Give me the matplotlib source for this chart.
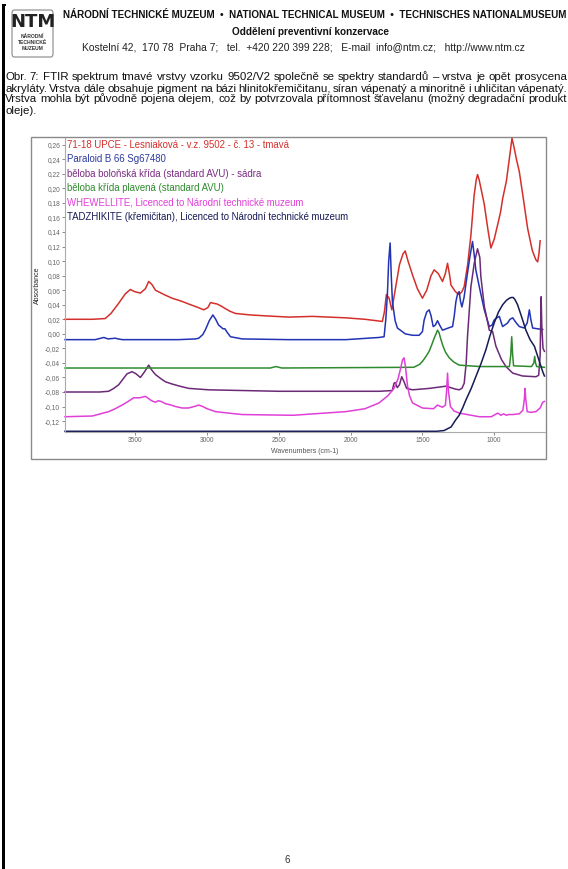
import matplotlib
matplotlib.use("Agg")
import matplotlib.pyplot as plt
from matplotlib.patches import Rectangle, FancyBboxPatch
from matplotlib.ticker import FuncFormatter, MultipleLocator

# ---------------------------------------------------------------- data
wn_sample = [3990, 3800, 3710, 3670, 3616, 3570, 3535, 3505, 3465, 3430, 3407, 3385, 3360,
             3300, 3244, 3180, 3128, 3060, 3023, 2995, 2976, 2955, 2930, 2900, 2876, 2840,
             2802, 2700, 2616, 2430, 2267, 2034, 1900, 1779, 1765, 1751, 1732, 1713, 1690,
             1660, 1635, 1620, 1600, 1569, 1535, 1500, 1470, 1440, 1418, 1390, 1360, 1340,
             1325, 1310, 1301, 1270, 1244, 1225, 1209, 1185, 1162, 1140, 1125, 1116, 1105,
             1090, 1069, 1045, 1023, 1000, 976, 955, 941, 915, 895, 876, 860, 845, 825, 800,
             767, 735, 710, 697, 688, 680]
abs_sample = [0.020, 0.020, 0.021, 0.028, 0.042, 0.055, 0.061, 0.058, 0.056, 0.062, 0.072, 0.068,
              0.060, 0.054, 0.049, 0.045, 0.041, 0.036, 0.033, 0.036, 0.043, 0.042, 0.041, 0.038,
              0.035, 0.031, 0.028, 0.026, 0.025, 0.023, 0.024, 0.022, 0.020, 0.017, 0.030, 0.054,
              0.049, 0.033, 0.060, 0.095, 0.110, 0.114, 0.100, 0.081, 0.062, 0.049, 0.060, 0.080,
              0.088, 0.083, 0.072, 0.083, 0.097, 0.080, 0.067, 0.058, 0.054, 0.058, 0.065, 0.095,
              0.136, 0.190, 0.212, 0.219, 0.212, 0.198, 0.178, 0.145, 0.118, 0.130, 0.150, 0.168,
              0.186, 0.210, 0.240, 0.269, 0.255, 0.240, 0.223, 0.190, 0.145, 0.115, 0.102, 0.099,
              0.110, 0.128]

wn_paraloid = [3990, 3780, 3740, 3720, 3690, 3640, 3620, 3590, 3200, 3080, 3058, 3030, 3011,
               2985, 2960, 2940, 2920, 2907, 2890, 2876, 2860, 2837, 2756, 2430, 2034, 1802,
               1767, 1755, 1744, 1735, 1725, 1717, 1709, 1690, 1674, 1620, 1569, 1523, 1500,
               1488, 1470, 1453, 1440, 1425, 1410, 1395, 1380, 1360, 1320, 1290, 1278, 1267,
               1255, 1244, 1235, 1225, 1210, 1193, 1170, 1151, 1140, 1128, 1104, 1069, 1034,
               1015, 1000, 982, 964, 950, 941, 920, 906, 890, 871, 850, 825, 790, 770, 755,
               745, 732, 700, 662]
abs_paraloid = [-0.008, -0.008, -0.006, -0.005, -0.007, -0.006, -0.007, -0.008, -0.008, -0.007,
                -0.006, -0.001, 0.006, 0.018, 0.026, 0.020, 0.012, 0.010, 0.007, 0.007, 0.002,
                -0.004, -0.007, -0.008, -0.008, -0.005, -0.004, 0.020, 0.054, 0.100, 0.125,
                0.080, 0.044, 0.018, 0.008, 0.000, -0.002, -0.002, 0.003, 0.019, 0.030, 0.033,
                0.025, 0.010, 0.012, 0.018, 0.012, 0.005, 0.008, 0.010, 0.025, 0.044, 0.055,
                0.058, 0.045, 0.037, 0.050, 0.074, 0.105, 0.127, 0.110, 0.088, 0.065, 0.033,
                0.010, 0.012, 0.019, 0.022, 0.024, 0.015, 0.010, 0.013, 0.015, 0.020, 0.022,
                0.016, 0.010, 0.008, 0.015, 0.033, 0.020, 0.008, 0.007, 0.006]

wn_gypsum = [3990, 3750, 3686, 3650, 3616, 3585, 3558, 3523, 3495, 3465, 3435, 3407, 3385, 3360,
             3320, 3290, 3244, 3190, 3128, 2988, 2500, 1800, 1710, 1698, 1690, 1675, 1660, 1644,
             1630, 1610, 1569, 1450, 1336, 1270, 1244, 1225, 1209, 1195, 1186, 1162, 1139, 1116,
             1100, 1093, 1069, 1034, 1011, 988, 950, 918, 871, 802, 709, 690, 680, 673, 668,
             660, 650]
abs_gypsum = [-0.080, -0.080, -0.079, -0.075, -0.070, -0.062, -0.055, -0.052, -0.055, -0.060,
              -0.052, -0.043, -0.050, -0.056, -0.062, -0.066, -0.069, -0.072, -0.075, -0.077,
              -0.079, -0.079, -0.078, -0.068, -0.067, -0.074, -0.070, -0.059, -0.065, -0.075,
              -0.077, -0.075, -0.072, -0.076, -0.077, -0.075, -0.068, -0.040, -0.004, 0.065,
              0.097, 0.117, 0.105, 0.079, 0.038, 0.005, 0.003, -0.017, -0.035, -0.045, -0.054,
              -0.058, -0.059, -0.057, -0.030, 0.051, 0.010, -0.020, -0.024]

wn_chalk = [3990, 2560, 2520, 2480, 1560, 1520, 1500, 1475, 1453, 1435, 1418, 1405, 1395, 1385,
            1375, 1360, 1340, 1313, 1280, 1244, 1100, 894, 885, 878, 871, 865, 740, 724, 718,
            712, 704, 650]
abs_chalk = [-0.047, -0.047, -0.045, -0.047, -0.046, -0.042, -0.038, -0.031, -0.024, -0.015,
             -0.006, 0.000, 0.005, 0.002, -0.005, -0.015, -0.025, -0.033, -0.039, -0.043,
             -0.045, -0.045, -0.030, -0.004, -0.030, -0.044, -0.045, -0.040, -0.031, -0.040,
             -0.045, -0.046]

wn_whewellite = [3990, 3800, 3686, 3640, 3593, 3550, 3512, 3470, 3450, 3430, 3415, 3395, 3375,
                 3360, 3340, 3320, 3290, 3250, 3220, 3174, 3130, 3090, 3058, 3030, 3000, 2942,
                 2850, 2756, 2400, 2034, 1900, 1802, 1740, 1698, 1670, 1651, 1639, 1628, 1618,
                 1605, 1590, 1569, 1500, 1423, 1395, 1360, 1340, 1332, 1325, 1318, 1305, 1280,
                 1244, 1104, 1020, 975, 953, 935, 915, 900, 871, 825, 800, 790, 785, 780, 770,
                 745, 709, 680, 662, 650]
abs_whewellite = [-0.114, -0.113, -0.107, -0.103, -0.098, -0.093, -0.088, -0.088, -0.087, -0.086,
                  -0.088, -0.091, -0.093, -0.094, -0.092, -0.093, -0.096, -0.098, -0.100, -0.102,
                  -0.102, -0.100, -0.098, -0.100, -0.103, -0.107, -0.109, -0.111, -0.112, -0.107,
                  -0.103, -0.095, -0.085, -0.075, -0.062, -0.047, -0.036, -0.033, -0.045, -0.070,
                  -0.085, -0.095, -0.102, -0.103, -0.098, -0.101, -0.098, -0.080, -0.054, -0.080,
                  -0.100, -0.106, -0.109, -0.114, -0.114, -0.109, -0.112, -0.110, -0.112, -0.111,
                  -0.111, -0.110, -0.105, -0.090, -0.075, -0.090, -0.107, -0.108, -0.107, -0.102,
                  -0.094, -0.093]

wn_tadzhikite = [3990, 2000, 1400, 1349, 1300, 1267, 1244, 1220, 1197, 1160, 1128, 1090, 1058,
                 1030, 1000, 970, 941, 915, 894, 880, 867, 855, 837, 810, 779, 750, 720, 690,
                 662, 650]
abs_tadzhikite = [-0.134, -0.134, -0.134, -0.133, -0.128, -0.118, -0.112, -0.102, -0.091, -0.075,
                  -0.059, -0.040, -0.022, -0.003, 0.015, 0.030, 0.040, 0.046, 0.049, 0.050,
                  0.050, 0.047, 0.040, 0.024, 0.005, -0.008, -0.017, -0.035, -0.052, -0.058]

series_labels = [
    "71-18 UPCE - Lesniaková - v.z. 9502 - č. 13 - tmavá",
    "Paraloid B 66 Sg67480",
    "běloba boloňská křída (standard AVU) - sádra",
    "běloba křída plavená (standard AVU)",
    "WHEWELLITE, Licenced to Národní technické muzeum",
    "TADZHIKITE (křemičitan), Licenced to Národní technické muzeum",
]
label_levels = [0.26, 0.24, 0.22, 0.20, 0.18, 0.16]
x_ticks = [3500, 3000, 2500, 2000, 1500, 1000]

paragraph_lines = [
    "Obr. 7: FTIR spektrum tmavé vrstvy vzorku 9502/V2 společně se spektry standardů – vrstva je opět prosycena",
    "akryláty. Vrstva dále obsahuje pigment na bázi hlinitokřemičitanu, síran vápenatý a minoritně i uhličitan vápenatý.",
    "Vrstva mohla být původně pojena olejem, což by potvrzovala přítomnost šťavelanu (možný degradační produkt",
    "oleje).",
]

# ---------------------------------------------------------------- page
W, H = 568, 869
plt.rcParams['font.family'] = ['Liberation Sans', 'DejaVu Sans']
fig = plt.figure(figsize=(W / 100, H / 100), dpi=100)
fig.patch.set_facecolor('white')
renderer = fig.canvas.get_renderer()


def fx(px):
    return px / W


def fy(py):
    return 1 - py / H


def text_px(x, y, s, **kw):
    return fig.text(fx(x), fy(y), s, **kw)


def fit_text(x0, x1, y, s, size, **kw):
    t = text_px(x0, y, s, fontsize=size, va='center', **kw)
    w = t.get_window_extent(renderer).width
    t.set_fontsize(size * (x1 - x0) / w)
    return t


def justified_block(x0, x1, baselines, lines, size, min_gap=2.4, **kw):
    """Lay out a paragraph word by word; every line but the last is justified."""
    rows = []
    scale = 1.0
    for yy, line in zip(baselines, lines):
        words = line.split()
        items = [text_px(0, yy, w_, fontsize=size, va='baseline', **kw) for w_ in words]
        widths = [t.get_window_extent(renderer).width for t in items]
        rows.append((items, widths))
    for items, widths in rows[:-1]:
        n_gaps = max(len(items) - 1, 1)
        avail = x1 - x0 - min_gap * n_gaps
        scale = min(scale, avail / sum(widths))
    for k, (items, widths) in enumerate(rows):
        for t in items:
            t.set_fontsize(size * scale)
        widths = [w_ * scale for w_ in widths]
        n_gaps = max(len(items) - 1, 1)
        if k < len(rows) - 1:
            gap = (x1 - x0 - sum(widths)) / n_gaps
        else:
            gap = min_gap + 0.3
        x = x0
        for t, w_ in zip(items, widths):
            t.set_x(fx(x))
            x += w_ + gap


# left page rule
fig.add_artist(Rectangle((fx(2), 0), fx(2.5), fy(4),
                         transform=fig.transFigure, color='black', lw=0))
fig.add_artist(Rectangle((fx(2), fy(5.5)), fx(4), 1.5 / H,
                         transform=fig.transFigure, color='black', lw=0))

# logo
fig.add_artist(FancyBboxPatch((fx(12), fy(57)), fx(41), (57 - 10) / H,
                              boxstyle="round,pad=0,rounding_size=0.004",
                              transform=fig.transFigure, fc='white', ec='#888888', lw=0.8))
text_px(32.5, 22, "NTM", fontsize=13, fontweight='bold', ha='center', va='center',
        color='#222222', family=['DejaVu Sans'])
for yy, s in [(36, "NÁRODNÍ"), (42.5, "TECHNICKÉ"), (49, "MUZEUM")]:
    text_px(32.5, yy, s, fontsize=3.6, fontweight='bold', ha='center', va='center', color='#333333')

# header
fit_text(63, 566, 15, "NÁRODNÍ TECHNICKÉ MUZEUM  •  NATIONAL TECHNICAL MUSEUM  •  TECHNISCHES NATIONALMUSEUM",
         6.5, fontweight='bold', color='#111111')
fit_text(232, 389, 32, "Oddělení preventivní konzervace", 7.5, fontweight='bold', color='#111111')
fit_text(82, 527, 48, "Kostelní 42,  170 78  Praha 7;   tel.  +420 220 399 228;   E-mail  info@ntm.cz;   http://www.ntm.cz",
         5.5, color='#222222')

# caption paragraph
justified_block(5, 567, [80.5, 91.5, 102.5, 113.5], paragraph_lines, 8.3, color='#111111')

# page number
text_px(287, 860, "6", fontsize=7, ha='center', va='center', color='#333333')

# chart frame
fig.add_artist(Rectangle((fx(31), fy(459)), fx(546 - 31), (459 - 137.5) / H,
                         transform=fig.transFigure, fc='white', ec='#8a8a8a', lw=1.0, zorder=0))

# ---------------------------------------------------------------- axes
ax_l, ax_r, ax_t, ax_b = 65, 545, 137.5, 432
ax = fig.add_axes([fx(ax_l), fy(ax_b), fx(ax_r - ax_l), (ax_b - ax_t) / H])
ax.set_facecolor('none')

series = [
    (wn_sample, abs_sample, '#d3302b'),
    (wn_paraloid, abs_paraloid, '#2233b5'),
    (wn_gypsum, abs_gypsum, '#6b2a76'),
    (wn_chalk, abs_chalk, '#2e8a2e'),
    (wn_whewellite, abs_whewellite, '#e03fd8'),
    (wn_tadzhikite, abs_tadzhikite, '#161a55'),
]
for wn, ab, c in series:
    ax.plot(wn, ab, color=c, lw=1.1, solid_joinstyle='round', clip_on=False)

label_colors = ['#d3302b', '#2b3a9e', '#7a2a82', '#2e8a2e', '#e03fd8', '#161a55']
for s, lv, c in zip(series_labels, label_levels, label_colors):
    ax.text(0.004, lv, s, transform=ax.get_yaxis_transform(), fontsize=6.9, color=c,
            va='center', ha='left')

ax.set_xlim(3990, 646)
ax.set_ylim(-0.135, 0.27)
ax.set_xticks(x_ticks)
ax.yaxis.set_major_locator(MultipleLocator(0.02))
ax.yaxis.set_major_formatter(FuncFormatter(lambda v, p: f"{v:.2f}".replace('.', ',').replace('-0,00', '0,00')))
ax.tick_params(axis='both', labelsize=4.8, colors='#777777', labelcolor='#666666',
               length=2, width=0.6, pad=1.5)
ax.set_ylim(-0.135, 0.27)
for sp in ['top', 'right']:
    ax.spines[sp].set_visible(False)
for sp in ['left', 'bottom']:
    ax.spines[sp].set_color('#aaaaaa')
    ax.spines[sp].set_linewidth(0.8)

ax.set_ylabel("Absorbance", fontsize=5, color='#222222', labelpad=6)
ax.yaxis.set_label_coords(fx(41 - ax_l) / fx(ax_r - ax_l), 0.5)
ax.set_xlabel("Wavenumbers (cm-1)", fontsize=5, color='#555555', labelpad=3)

fig.savefig("out.png", dpi=100, facecolor='white')
